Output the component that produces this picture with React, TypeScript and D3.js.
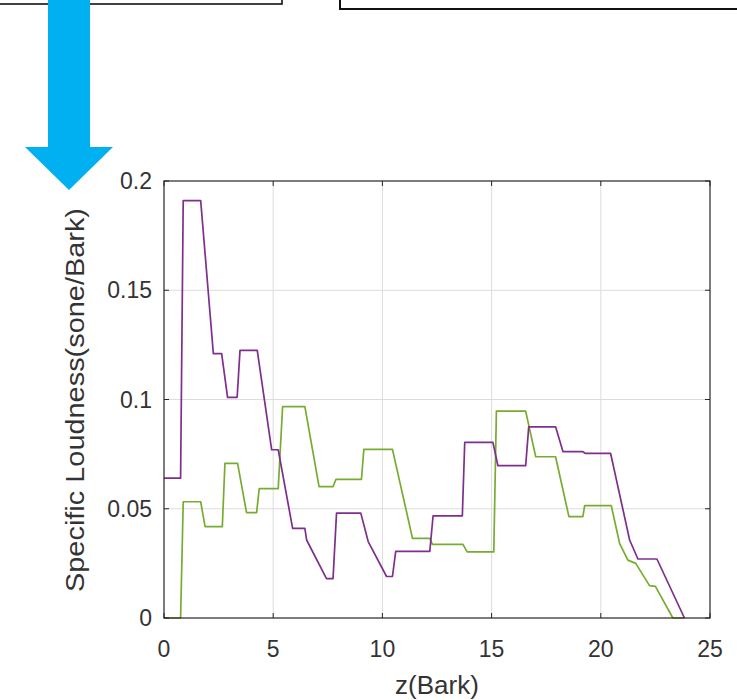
import React from "react";
import * as d3 from "d3";

const purpleZ = [0, 0.76, 0.88, 1.68, 2.26, 2.64, 2.91, 3.35, 3.48, 4.27, 4.93, 5.23, 5.89, 6.45, 6.53, 7.44, 7.74, 7.9, 9.01, 9.35, 10.19, 10.46, 10.61, 12.17, 12.32, 13.66, 13.77, 15.06, 15.29, 16.56, 16.7, 17.93, 18.27, 19.18, 19.3, 20.45, 21.32, 21.7, 22.57, 23.83];
const purpleV = [0.064, 0.064, 0.191, 0.191, 0.121, 0.121, 0.101, 0.101, 0.1225, 0.1225, 0.077, 0.077, 0.041, 0.041, 0.0357, 0.018, 0.018, 0.048, 0.048, 0.035, 0.019, 0.019, 0.0305, 0.0305, 0.0467, 0.0467, 0.0804, 0.0804, 0.0697, 0.0697, 0.0875, 0.0875, 0.0761, 0.0761, 0.0753, 0.0753, 0.0357, 0.027, 0.027, 0];

const greenZ = [0, 0.76, 0.88, 1.68, 1.88, 2.67, 2.79, 3.37, 3.78, 4.24, 4.36, 5.23, 5.43, 6.45, 7.1, 7.74, 7.87, 9.04, 9.15, 10.46, 11.38, 12.17, 12.29, 13.69, 13.88, 15.1, 15.22, 16.56, 17.02, 17.93, 18.54, 19.18, 19.26, 20.48, 20.86, 21.24, 21.6, 22.23, 22.5, 23.3, 23.83];
const greenV = [0, 0, 0.0532, 0.0532, 0.0418, 0.0418, 0.0708, 0.0708, 0.0482, 0.0482, 0.0592, 0.0592, 0.0967, 0.0967, 0.0601, 0.0601, 0.0634, 0.0634, 0.0772, 0.0772, 0.0364, 0.0364, 0.0337, 0.0337, 0.0303, 0.0303, 0.0947, 0.0947, 0.0738, 0.0738, 0.0464, 0.0464, 0.0514, 0.0514, 0.0342, 0.0265, 0.025, 0.0148, 0.0145, 0, 0];

const xTicks = [0, 5, 10, 15, 20, 25];
const yTicks = [0, 0.05, 0.1, 0.15, 0.2];
const yTickLabels = ["0", "0.05", "0.1", "0.15", "0.2"];

const FONT = "'Liberation Sans', Arial, Helvetica, sans-serif";

export default function App() {
  const L = 164, R = 710, T = 181, B = 618;
  const x = d3.scaleLinear().domain([0, 25]).range([L, R]);
  const y = d3.scaleLinear().domain([0, 0.2]).range([B, T]);
  const line = d3.line<[number, number]>().x((d) => x(d[0])).y((d) => y(d[1]));
  const purple = purpleZ.map((z, i) => [z, purpleV[i]] as [number, number]);
  const green = greenZ.map((z, i) => [z, greenV[i]] as [number, number]);
  const tickLen = 5;
  const axisColor = "#262626";
  const textColor = "#333333";

  return (
    <svg width={737} height={700} style={{ position: "absolute", left: 0, top: 0, background: "#fff" }}>
      <rect x={0} y={0} width={737} height={700} fill="#fff" />
      {/* top boxes */}
      <rect x={-10} y={-20} width={292} height={24} fill="none" stroke="#111" strokeWidth={1.6} />
      <rect x={340} y={-20} width={420} height={29} fill="none" stroke="#111" strokeWidth={2} />
      {/* arrow */}
      <path d="M48,0 L90,0 L90,147 L113,147 L69,190 L25,147 L48,147 Z" fill="#00B0F0" />
      {/* grid */}
      {xTicks.slice(1, -1).map((t) => (
        <line key={"gx" + t} x1={x(t)} x2={x(t)} y1={T} y2={B} stroke="#dcdcdc" strokeWidth={1} />
      ))}
      {yTicks.slice(1, -1).map((t) => (
        <line key={"gy" + t} x1={L} x2={R} y1={y(t)} y2={y(t)} stroke="#dcdcdc" strokeWidth={1} />
      ))}
      {/* lines */}
      <path d={line(green) || ""} fill="none" stroke="#77AC30" strokeWidth={1.7} strokeLinejoin="round" />
      <path d={line(purple) || ""} fill="none" stroke="#7E2F8E" strokeWidth={1.7} strokeLinejoin="round" />
      {/* frame */}
      <rect x={L} y={T} width={R - L} height={B - T} fill="none" stroke={axisColor} strokeWidth={1.2} />
      {xTicks.map((t) => (
        <g key={"tx" + t}>
          <line x1={x(t)} x2={x(t)} y1={B} y2={B - tickLen} stroke={axisColor} strokeWidth={1} />
          <line x1={x(t)} x2={x(t)} y1={T} y2={T + tickLen} stroke={axisColor} strokeWidth={1} />
          <text x={x(t)} y={657} textAnchor="middle" fontFamily={FONT} fontSize={23} fill={textColor}>
            {t}
          </text>
        </g>
      ))}
      {yTicks.map((t, i) => (
        <g key={"ty" + t}>
          <line x1={L} x2={L + tickLen} y1={y(t)} y2={y(t)} stroke={axisColor} strokeWidth={1} />
          <line x1={R} x2={R - tickLen} y1={y(t)} y2={y(t)} stroke={axisColor} strokeWidth={1} />
          <text x={152} y={y(t) + 8} textAnchor="end" fontFamily={FONT} fontSize={23} fill={textColor}>
            {yTickLabels[i]}
          </text>
        </g>
      ))}
      <text x={437} y={694} textAnchor="middle" fontFamily={FONT} fontSize={26} fill={textColor}>
        z(Bark)
      </text>
      <text
        transform="translate(84,400) rotate(-90)"
        textAnchor="middle"
        fontFamily={FONT}
        fontSize={26}
        fill={textColor}
        textLength={384}
        lengthAdjust="spacingAndGlyphs"
      >
        Specific Loudness(sone/Bark)
      </text>
    </svg>
  );
}
